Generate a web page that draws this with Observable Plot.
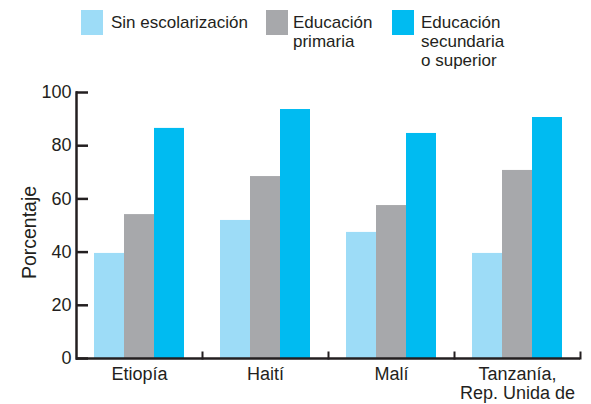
<!DOCTYPE html>
<html>
<head>
<meta charset="utf-8">
<script src="https://cdn.jsdelivr.net/npm/d3@7"></script>
<script src="https://cdn.jsdelivr.net/npm/@observablehq/plot@0.6"></script>
<style>
  html, body { margin: 0; padding: 0; background: #fff; }
  body { width: 591px; height: 404px; overflow: hidden; font-family: "Liberation Sans", Arial, sans-serif; color: #231f20; }
  #legend { position: relative; width: 591px; height: 80px; }
  .sw { position: absolute; top: 10px; width: 22px; height: 25px; }
  .lt { position: absolute; top: 13px; font-size: 17px; line-height: 19px; white-space: pre; }
  #chart svg { display: block; }
</style>
</head>
<body>
<div id="legend"></div>
<div id="chart"></div>
<script>
const countries = ["Etiopía", "Haití", "Malí", "Tanzanía"];
const countryLabels = ["Etiopía", "Haití", "Malí", "Tanzanía,\nRep. Unida de"];
const series = ["Sin escolarización", "Educación primaria", "Educación secundaria o superior"];
const legendLabels = ["Sin escolarización", "Educación\nprimaria", "Educación\nsecundaria\no superior"];
const colors = ["#9ddcf7", "#a7a8ab", "#00bbf1"];
const sinEscolarizacion = [39.5, 51.9, 47.4, 39.5];
const educacionPrimaria = [54.1, 68.4, 57.5, 70.7];
const educacionSecundaria = [86.5, 93.6, 84.6, 90.6];
const yTicks = [0, 20, 40, 60, 80, 100];
const yTitle = "Porcentaje";

const seriesValues = [sinEscolarizacion, educacionPrimaria, educacionSecundaria];
const data = [];
countries.forEach((c, i) => series.forEach((s, j) => data.push({country: c, series: s, value: seriesValues[j][i]})));
const labelOf = Object.fromEntries(countries.map((c, i) => [c, countryLabels[i]]));

// legend
const legend = document.getElementById("legend");
const swX = [81, 266, 392];
const txX = [111, 293, 421];
series.forEach((s, i) => {
  const sw = document.createElement("div");
  sw.className = "sw"; sw.style.left = swX[i] + "px"; sw.style.background = colors[i];
  legend.appendChild(sw);
  const t = document.createElement("div");
  t.className = "lt"; t.style.left = txX[i] + "px"; t.textContent = legendLabels[i];
  legend.appendChild(t);
});

const ink = "#231f20";
const chart = Plot.plot({
  width: 591,
  height: 324,
  marginTop: 12,
  marginBottom: 46,
  marginLeft: 74,
  marginRight: 10,
  style: {fontFamily: "'Liberation Sans', Arial, sans-serif", color: ink, background: "#fff"},
  fx: {domain: countries, padding: 0},
  x: {domain: series, paddingInner: 0, paddingOuter: 0.57, axis: null},
  y: {domain: [0, 100]},
  color: {domain: series, range: colors},
  marks: [
    Plot.barY(data, {fx: "country", x: "series", y: "value", fill: "series"}),
    Plot.ruleY([0], {stroke: ink, strokeWidth: 2.5}),
    Plot.frame({anchor: "left", facetAnchor: "left", stroke: ink, strokeWidth: 2.5}),
    Plot.frame({anchor: "right", insetTop: 260, stroke: ink, strokeWidth: 2}),
    Plot.tickY(yTicks.map(v => ({v, c: countries[0]})), {fx: "c", y: "v", insetRight: 114, stroke: ink, strokeWidth: 2.5}),
    Plot.axisY({ticks: yTicks, tickSize: 0, tickPadding: 5, fontSize: 18, label: null}),
    Plot.text([{c: countries[0], t: yTitle}], {fx: "c", text: "t", frameAnchor: "left", textAnchor: "middle", rotate: -90, dx: -47, dy: 7, fontSize: 19.5, fill: ink}),
    Plot.axisFx({anchor: "bottom", tickSize: 0, tickPadding: 8, fontSize: 18, lineHeight: 1.05, label: null, tickFormat: d => labelOf[d]})
  ]
});
document.getElementById("chart").appendChild(chart);
</script>
</body>
</html>
